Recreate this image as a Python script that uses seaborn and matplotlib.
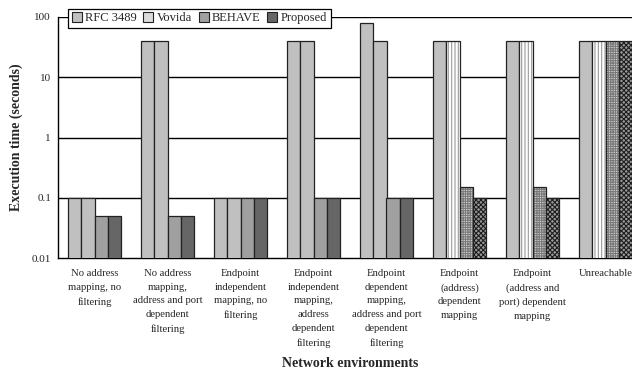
import matplotlib
matplotlib.use("Agg")
import matplotlib.pyplot as plt
import matplotlib.colors as mcolors
from matplotlib.patches import Patch
from matplotlib.ticker import FixedLocator, NullLocator
import seaborn as sns
import pandas as pd

categories = [
    "No address\nmapping, no\nfiltering",
    "No address\nmapping,\naddress and port\ndependent\nfiltering",
    "Endpoint\nindependent\nmapping, no\nfiltering",
    "Endpoint\nindependent\nmapping,\naddress\ndependent\nfiltering",
    "Endpoint\ndependent\nmapping,\naddress and port\ndependent\nfiltering",
    "Endpoint\n(address)\ndependent\nmapping",
    "Endpoint\n(address and\nport) dependent\nmapping",
    "Unreachable",
]
series_names = ["RFC 3489", "Vovida", "BEHAVE", "Proposed"]
rfc3489 = [0.1, 40, 0.1, 40, 80, 40, 40, 40]
vovida = [0.1, 40, 0.1, 40, 40, 40, 40, 40]
behave = [0.05, 0.05, 0.1, 0.1, 0.1, 0.15, 0.15, 40]
proposed = [0.05, 0.05, 0.1, 0.1, 0.1, 0.1, 0.1, 40]
yticks = [0.01, 0.1, 1, 10, 100]
ytick_labels = ["0.01", "0.1", "1", "10", "100"]

rows = []
for name, vals in zip(series_names, [rfc3489, vovida, behave, proposed]):
    for c, v in zip(categories, vals):
        rows.append({"env": c, "series": name, "time": v})
df = pd.DataFrame(rows)

sns.set_style("white")
plt.rcParams["font.family"] = ["Liberation Serif", "DejaVu Serif"]
plt.rcParams["hatch.linewidth"] = 0.8

fig = plt.figure(figsize=(6.32, 3.72), dpi=100)
W, H = 632.0, 372.0
left, right, top, bottom = 58, 642, 17, 258
ax = fig.add_axes([left / W, (H - bottom) / H, (right - left) / W, (bottom - top) / H])

face = ["#c0c0c0", "#c0c0c0", "#a0a0a0", "#666666"]
sns.barplot(data=df, x="env", y="time", hue="series", hue_order=series_names,
            order=categories, palette=face, width=0.73, gap=0,
            edgecolor="#222222", linewidth=0.9, ax=ax, legend=False, zorder=3)
ax.set_yscale("log")
ax.set_ylim(0.01, 100)
ax.set_xlim(-0.5, len(categories) - 0.5)

# patterned bars in the last three groups
pattern = {
    1: ("white", "|||||", "#9a9a9a"),
    2: ("#d4d4d4", "+++++++", "#7a7a7a"),
    3: ("#9a9a9a", "xxxxxxx", "#1e1e1e"),
}
for si, (fc, hatch, hc) in pattern.items():
    for gi in [5, 6, 7]:
        p = ax.containers[si][gi]
        p.set_facecolor(fc)
        p.set_hatch(hatch)
        p._hatch_color = mcolors.to_rgba(hc)

# grid lines
for v in [0.1, 1, 10, 100]:
    ax.axhline(v, color="black", lw=1.0, zorder=1)

ax.yaxis.set_major_locator(FixedLocator(yticks))
ax.set_yticklabels(ytick_labels)
ax.yaxis.set_minor_locator(NullLocator())
ax.tick_params(axis="y", length=0, labelsize=8, pad=5)

ax.set_xticks(range(len(categories)))
ax.set_xticklabels(categories, fontsize=7.7, linespacing=1.67, va="top")
ax.tick_params(axis="x", which="major", length=0, pad=8)
ax.set_xticks([i + 0.5 for i in range(len(categories) - 1)], minor=True)
ax.tick_params(axis="x", which="minor", direction="in", length=4, width=0.8, color="black")

for s in ["top", "right"]:
    ax.spines[s].set_visible(False)
for s in ["left", "bottom"]:
    ax.spines[s].set_color("black")
    ax.spines[s].set_linewidth(1.0)

ax.set_xlabel("Network environments", fontsize=10, fontweight="bold", labelpad=7)
ax.set_ylabel("Execution time (seconds)", fontsize=10, fontweight="bold", labelpad=6)

handles = [Patch(facecolor=c, edgecolor="#222222", linewidth=0.8)
           for c in ["#c0c0c0", "#dcdcdc", "#a0a0a0", "#666666"]]
leg = ax.legend(handles, series_names, ncol=4, loc="upper left",
                bbox_to_anchor=(0.017, 1.035), frameon=True, fancybox=False,
                fontsize=9, handlelength=0.8, handleheight=0.8, handletextpad=0.25,
                columnspacing=0.55, borderpad=0.3, borderaxespad=0)
leg.get_frame().set_edgecolor("black")
leg.get_frame().set_linewidth(0.9)
leg.get_frame().set_alpha(1)
leg.set_zorder(10)

fig.savefig("out.png", dpi=100)
